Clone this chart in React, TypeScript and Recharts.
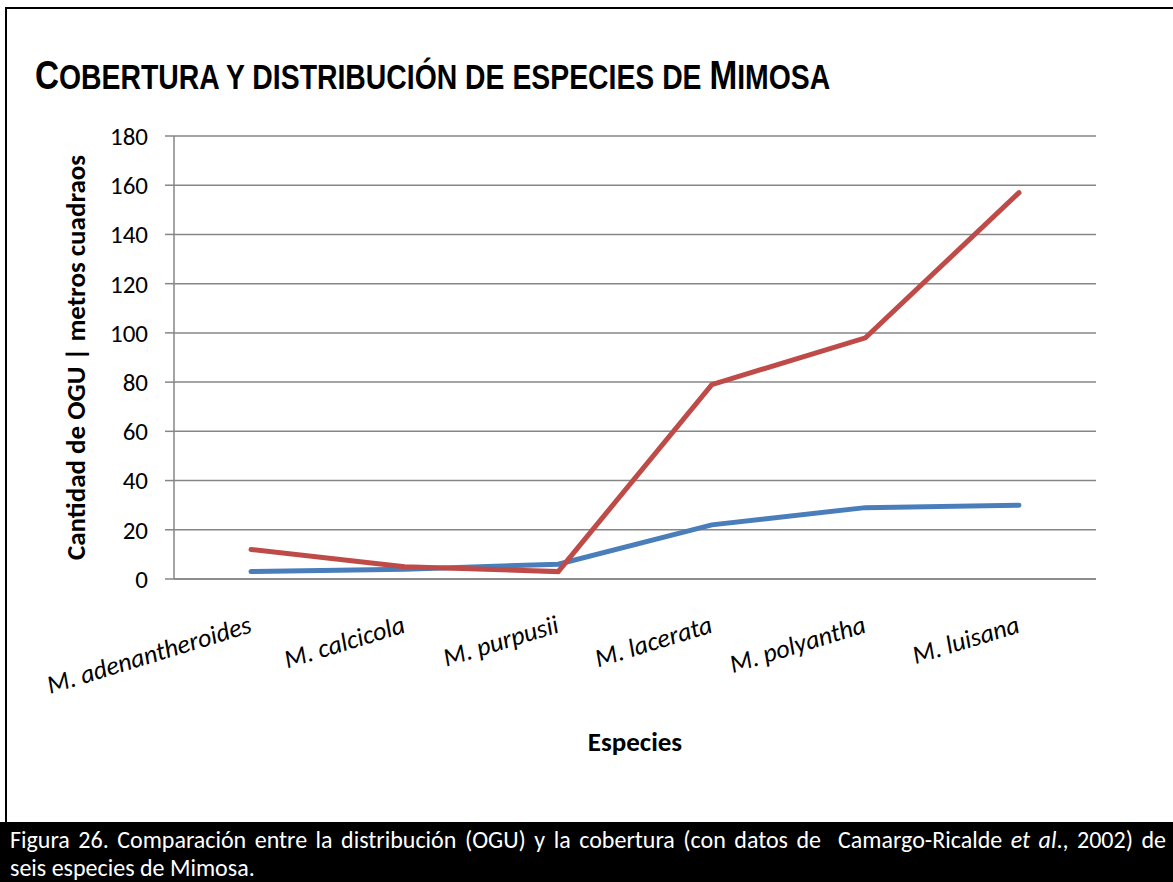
import React, { useLayoutEffect, useRef, useState } from 'react';
import { CartesianGrid, Line, LineChart, XAxis, YAxis } from 'recharts';

const species = ['M. adenantheroides', 'M. calcicola', 'M. purpusii', 'M. lacerata', 'M. polyantha', 'M. luisana'];
const ogu = [3, 4, 6, 22, 29, 30];
const cobertura = [12, 5, 3, 79, 98, 157];
const yTicks = [0, 20, 40, 60, 80, 100, 120, 140, 160, 180];

const BLUE = '#4A7EBB';
const RED = '#BE4B48';
const GRID = '#868686';
const FONT = "Carlito, 'Open Sans', sans-serif";

const data = species.map((name, i) => ({ name, ogu: ogu[i], cobertura: cobertura[i] }));

// rotated, italic category labels like the Excel original
const SpeciesTick = (props: any) => {
  const { x, y, payload } = props;
  const ax = x + 2;
  const ay = y + 51;
  return (
    <text
      x={ax}
      y={ay}
      transform={`rotate(-17 ${ax} ${ay})`}
      textAnchor="end"
      fontFamily={FONT}
      fontStyle="italic"
      fontSize={26}
      fill="#000"
    >
      {payload.value}
    </text>
  );
};

// small-caps title squeezed to the narrow width of the original
const Title = () => {
  const ref = useRef<HTMLDivElement>(null);
  const [sx, setSx] = useState(1);
  useLayoutEffect(() => {
    if (ref.current) setSx(795 / ref.current.offsetWidth);
  }, []);
  const small = { fontSize: 34.5 };
  return (
    <div
      ref={ref}
      style={{
        position: 'absolute',
        left: 35,
        top: 52,
        fontFamily: "'Liberation Sans', Arial, sans-serif",
        fontWeight: 'bold',
        fontSize: 40.5,
        lineHeight: '46px',
        whiteSpace: 'nowrap',
        color: '#000',
        transform: `scaleX(${sx})`,
        transformOrigin: 'left top',
      }}
    >
      C<span style={small}>OBERTURA Y DISTRIBUCIÓN DE ESPECIES DE </span>M<span style={small}>IMOSA</span>
    </div>
  );
};

export default function App() {
  return (
    <div style={{ position: 'absolute', left: 0, top: 0, width: 1173, height: 882, overflow: 'hidden', background: '#fff' }}>
      {/* frame */}
      <div style={{ position: 'absolute', left: 5, top: 7, width: 1200, height: 830, borderLeft: '2px solid #000', borderTop: '2px solid #000' }} />

      <Title />

      <div style={{ position: 'absolute', left: 0, top: 0 }}>
        <LineChart width={1173} height={822} data={data} margin={{ top: 136, right: 77, left: 0, bottom: 113 }}>
          <CartesianGrid vertical={false} stroke={GRID} strokeWidth={1.5} />
          <XAxis
            dataKey="name"
            interval={0}
            padding={{ left: 77, right: 77 }}
            tickLine={false}
            tickSize={0}
            axisLine={{ stroke: GRID, strokeWidth: 1.5 }}
            height={130}
            tick={<SpeciesTick />}
            label={{
              content: (p: any) => (
                <text
                  x={p.viewBox.x + p.viewBox.width / 2}
                  y={p.viewBox.y + 162}
                  textAnchor="middle"
                  dominantBaseline="central"
                  fontFamily={FONT}
                  fontWeight="bold"
                  fontSize={27}
                  fill="#000"
                >
                  Especies
                </text>
              ),
            }}
          />
          <YAxis
            width={174}
            domain={[0, 180]}
            ticks={yTicks}
            interval={0}
            tickSize={9}
            tickMargin={17}
            tickLine={{ stroke: GRID, strokeWidth: 1.5 }}
            axisLine={{ stroke: GRID, strokeWidth: 1.5 }}
            tick={{ fill: '#000', fontFamily: FONT, fontSize: 25 }}
            label={{
              content: (p: any) => {
                const cy = p.viewBox.y + p.viewBox.height / 2;
                return (
                  <text
                    x={75}
                    y={cy}
                    transform={`rotate(-90 75 ${cy})`}
                    textAnchor="middle"
                    dominantBaseline="central"
                    fontFamily={FONT}
                    fontWeight="bold"
                    fontSize={27}
                    fill="#000"
                  >
                    Cantidad de OGU | metros cuadraos
                  </text>
                );
              },
            }}
          />
          <Line type="linear" dataKey="ogu" stroke={BLUE} strokeWidth={5} dot={false} strokeLinecap="round" isAnimationActive={false} />
          <Line type="linear" dataKey="cobertura" stroke={RED} strokeWidth={5} dot={false} strokeLinecap="round" isAnimationActive={false} />
        </LineChart>
      </div>

      {/* caption bar */}
      <div
        style={{
          position: 'absolute',
          left: 0,
          top: 822,
          width: 1173,
          height: 60,
          background: '#000',
          color: '#fff',
          fontFamily: FONT,
          fontSize: 24,
          lineHeight: '28px',
          padding: '4px 7px 0 10px',
          boxSizing: 'border-box',
          overflow: 'hidden',
        }}
      >
        <div style={{ textAlign: 'justify', textAlignLast: 'justify', whiteSpace: 'nowrap' as any }}>
          Figura 26. Comparación entre la distribución (OGU) y la cobertura (con datos de&nbsp; Camargo-Ricalde <i>et al</i>., 2002) de
        </div>
        <div>seis especies de Mimosa.</div>
      </div>
    </div>
  );
}
